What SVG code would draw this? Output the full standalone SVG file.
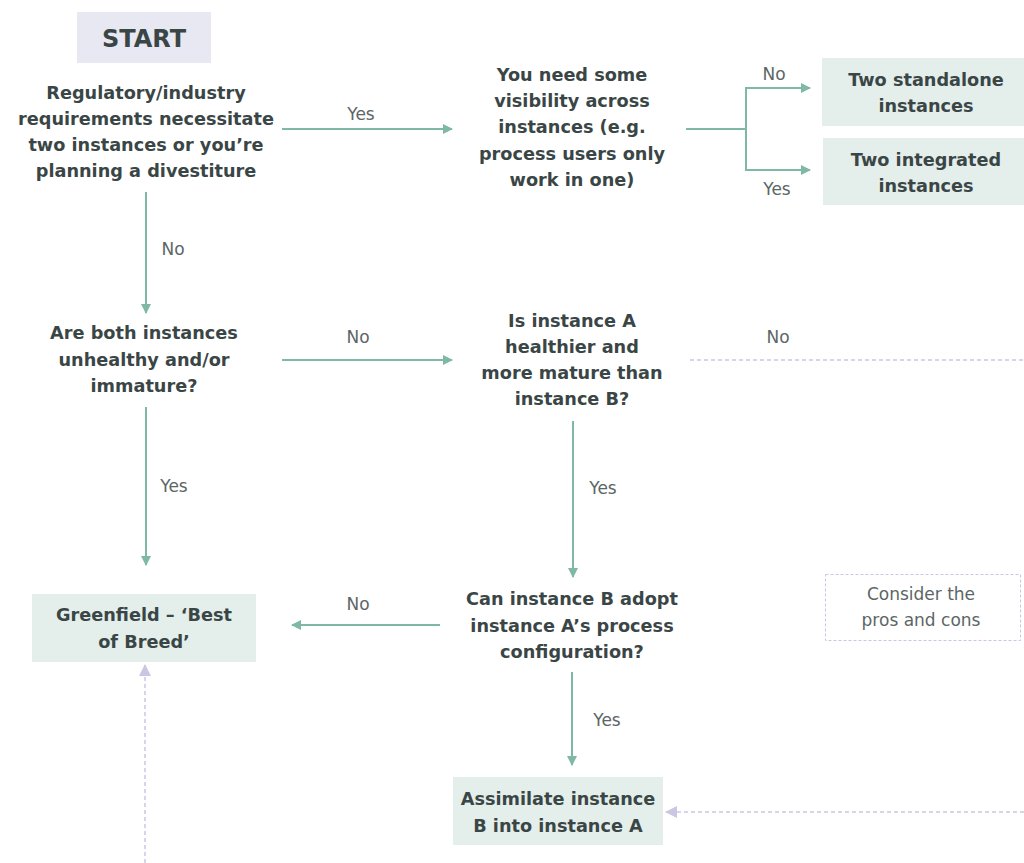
<svg xmlns="http://www.w3.org/2000/svg" width="1024" height="863" viewBox="0 0 1024 863">
<style>
.q{font-family:"DejaVu Sans","Liberation Sans",sans-serif;font-weight:bold;font-size:17.7px;fill:#3a4646;text-anchor:middle}
.lb{font-family:"DejaVu Sans","Liberation Sans",sans-serif;font-size:17px;fill:#5c6666;text-anchor:middle}
.box{fill:#e4eeeb}
.g{stroke:#7fb9a3;stroke-width:2;fill:none}
.d{stroke:#cbc7e3;stroke-width:1.5;fill:none;stroke-dasharray:4 3}
</style>
<defs>
<marker id="ag" markerWidth="10" markerHeight="10" refX="9" refY="5" orient="auto" markerUnits="userSpaceOnUse"><path d="M0,0 L10,5 L0,10 z" fill="#7fb9a3"/></marker>
<marker id="al" markerWidth="12" markerHeight="12" refX="11" refY="6" orient="auto" markerUnits="userSpaceOnUse"><path d="M0,0 L12,6 L0,12 z" fill="#cbc7e3"/></marker>
</defs>
<rect width="1024" height="863" fill="#ffffff"/>
<g id="start"><rect x="77" y="12" width="134" height="51" fill="#e8e8f3"/><text class="q" x="144" y="47" style="font-size:24px">START</text></g>
<g id="q1"><text class="q"><tspan x="146" y="99">Regulatory/industry</tspan><tspan x="146" y="125">requirements necessitate</tspan><tspan x="146" y="151">two instances or you’re</tspan><tspan x="146" y="177">planning a divestiture</tspan></text></g>
<g id="q2"><text class="q"><tspan x="572" y="81">You need some</tspan><tspan x="572" y="107">visibility across</tspan><tspan x="572" y="133">instances (e.g.</tspan><tspan x="572" y="160">process users only</tspan><tspan x="572" y="186">work in one)</tspan></text></g>
<g id="standalone"><rect class="box" x="822" y="58" width="202" height="68"/><text class="q"><tspan x="926" y="86">Two standalone</tspan><tspan x="926" y="112">instances</tspan></text></g>
<g id="integrated"><rect class="box" x="823" y="138" width="201" height="67"/><text class="q"><tspan x="926" y="166">Two integrated</tspan><tspan x="926" y="192">instances</tspan></text></g>
<g id="q3"><text class="q"><tspan x="144" y="339">Are both instances</tspan><tspan x="144" y="366">unhealthy and/or</tspan><tspan x="144" y="392">immature?</tspan></text></g>
<g id="q4"><text class="q"><tspan x="572" y="327">Is instance A</tspan><tspan x="572" y="353">healthier and</tspan><tspan x="572" y="379">more mature than</tspan><tspan x="572" y="405">instance B?</tspan></text></g>
<g id="greenfield"><rect class="box" x="32" y="594" width="224" height="68"/><text class="q"><tspan x="144" y="621">Greenfield – ‘Best</tspan><tspan x="144" y="648">of Breed’</tspan></text></g>
<g id="q5"><text class="q"><tspan x="572" y="605">Can instance B adopt</tspan><tspan x="572" y="632">instance A’s process</tspan><tspan x="572" y="658">configuration?</tspan></text></g>
<g id="consider"><rect x="825.5" y="574.5" width="195" height="66" class="d" style="stroke-dasharray:3 2;stroke-width:1"/><text class="lb"><tspan x="921" y="600">Consider the</tspan><tspan x="921" y="626">pros and cons</tspan></text></g>
<g id="assimilate"><rect class="box" x="453" y="777" width="210" height="68"/><text class="q"><tspan x="558" y="805">Assimilate instance</tspan><tspan x="558" y="832">B into instance A</tspan></text></g>
<g id="connectors">
<line class="g" x1="282" y1="129" x2="452" y2="129" marker-end="url(#ag)"/>
<text class="lb" x="361" y="120">Yes</text>
<polyline class="g" points="686,129 746,129"/>
<polyline class="g" points="746,129 746,88 810,88" marker-end="url(#ag)"/>
<polyline class="g" points="746,129 746,170 810,170" marker-end="url(#ag)"/>
<text class="lb" x="774" y="80">No</text>
<text class="lb" x="777" y="195">Yes</text>
<line class="g" x1="146" y1="192" x2="146" y2="313" marker-end="url(#ag)"/>
<text class="lb" x="173" y="255">No</text>
<line class="g" x1="282" y1="360" x2="452" y2="360" marker-end="url(#ag)"/>
<text class="lb" x="358" y="343">No</text>
<line class="d" x1="690" y1="360" x2="1024" y2="360"/>
<text class="lb" x="778" y="343">No</text>
<line class="g" x1="146" y1="407" x2="146" y2="565" marker-end="url(#ag)"/>
<text class="lb" x="174" y="492">Yes</text>
<line class="g" x1="573" y1="421" x2="573" y2="577" marker-end="url(#ag)"/>
<text class="lb" x="603" y="494">Yes</text>
<line class="g" x1="440" y1="625" x2="292" y2="625" marker-end="url(#ag)"/>
<text class="lb" x="358" y="610">No</text>
<line class="g" x1="572" y1="672" x2="572" y2="765" marker-end="url(#ag)"/>
<text class="lb" x="607" y="726">Yes</text>
<line class="d" x1="1024" y1="812" x2="666" y2="812" marker-end="url(#al)"/>
<line class="d" x1="145" y1="863" x2="145" y2="665" marker-end="url(#al)"/>
</g>
</svg>
